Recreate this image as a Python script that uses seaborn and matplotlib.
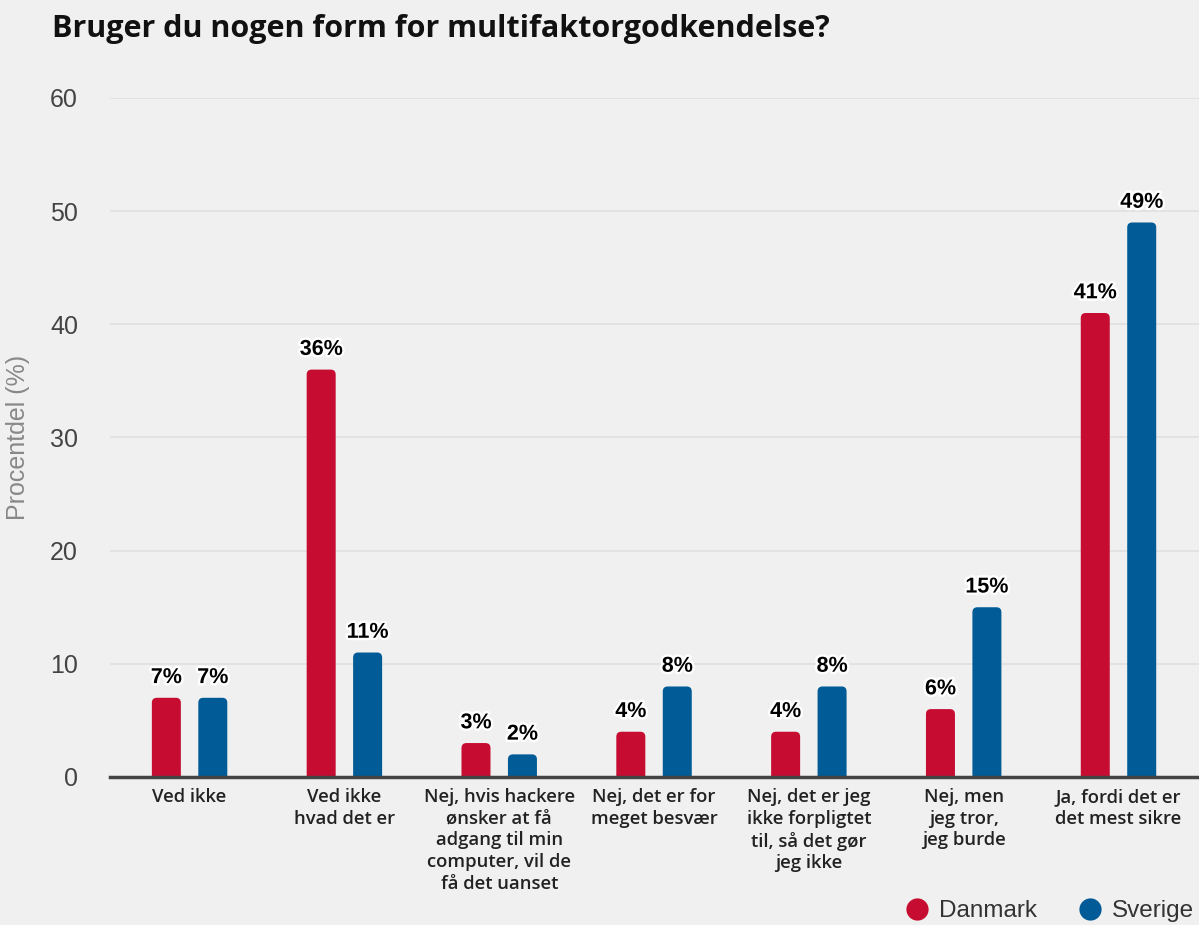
import matplotlib
matplotlib.use("Agg")
import matplotlib.pyplot as plt
import seaborn as sns
import pandas as pd
from matplotlib.patches import FancyBboxPatch
from matplotlib.lines import Line2D
import matplotlib.patheffects as pe

categories = [
    "Ved ikke",
    "Ved ikke\nhvad det er",
    "Nej, hvis hackere\nønsker at få\nadgang til min\ncomputer, vil de\nfå det uanset",
    "Nej, det er for\nmeget besvær",
    "Nej, det er jeg\nikke forpligtet\ntil, så det gør\njeg ikke",
    "Nej, men\njeg tror,\njeg burde",
    "Ja, fordi det er\ndet mest sikre",
]
series_names = ["Danmark", "Sverige"]
danmark = [7, 36, 3, 4, 4, 6, 41]
sverige = [7, 11, 2, 8, 8, 15, 49]
yticks = [0, 10, 20, 30, 40, 50, 60]
title = "Bruger du nogen form for multifaktorgodkendelse?"
ylabel = "Procentdel (%)"

colors = {"Danmark": "#c60c30", "Sverige": "#005b96"}
BG = "#f0f0f0"

df = pd.DataFrame({
    "kategori": categories * 2,
    "land": ["Danmark"] * len(categories) + ["Sverige"] * len(categories),
    "værdi": danmark + sverige,
})

sns.set_theme(style="white")
plt.rcParams["font.family"] = ["Liberation Sans", "DejaVu Sans"]

W, H = 1199, 925
fig = plt.figure(figsize=(W / 100, H / 100), dpi=100, facecolor=BG)
ax_left, ax_right, ax_bot, ax_top = 110, 1199, 777, 98
ax = fig.add_axes([ax_left / W, 1 - ax_bot / H, (ax_right - ax_left) / W, (ax_bot - ax_top) / H])
ax.set_facecolor(BG)

sns.barplot(data=df, x="kategori", y="værdi", hue="land", order=categories,
            hue_order=series_names, palette=colors, width=0.6, ax=ax,
            legend=False, errorbar=None, saturation=1)

xmin, xmax = -0.514, 6.52
ymin, ymax = 0, 60
ax.set_xlim(xmin, xmax)
ax.set_ylim(ymin, ymax)

px_x = (xmax - xmin) / (ax_right - ax_left)
px_y = (ymax - ymin) / (ax_bot - ax_top)
bar_w = 29 * px_x
rad = 5 * px_x

for cont, name in zip(ax.containers, series_names):
    for bar in cont:
        cx = bar.get_x() + bar.get_width() / 2
        h = bar.get_height()
        bar.remove()
        patch = FancyBboxPatch((cx - bar_w / 2, -2), bar_w, h + 2,
                               boxstyle=f"round,pad=0,rounding_size={rad}",
                               mutation_aspect=px_y / px_x,
                               facecolor=colors[name], edgecolor="none",
                               clip_on=True, zorder=3)
        ax.add_patch(patch)
        ax.annotate(f"{h:.0f}%", (cx, h), xytext=(0, 7), textcoords="offset points",
                    ha="center", va="bottom", fontsize=15.5, fontweight="bold",
                    color="black", zorder=5,
                    path_effects=[pe.withStroke(linewidth=3.5, foreground="white")])

ax.set_yticks(yticks)
ax.set_yticklabels([str(t) for t in yticks], fontsize=18, color="#444444")
ax.yaxis.grid(True, color="#e0e0e0", linewidth=1.2, zorder=0)
ax.set_axisbelow(True)
ax.tick_params(axis="y", length=0, pad=23)
ax.tick_params(axis="x", length=0, pad=8)
ax.set_xticks(range(len(categories)))
ax.set_xticklabels(categories, fontsize=13.3, color="#222222",
                   family=["Open Sans", "DejaVu Sans"], fontweight="semibold",
                   linespacing=1.26)
ax.set_xlabel("")
ax.set_ylabel(ylabel, fontsize=18, color="#888888", labelpad=0)
ax.yaxis.set_label_coords(-0.0735, 0.5)

for s in ["top", "right", "left"]:
    ax.spines[s].set_visible(False)
ax.spines["bottom"].set_color("#444444")
ax.spines["bottom"].set_linewidth(2.5)
ax.spines["bottom"].set_zorder(6)

fig.text(52 / W, 1 - 29 / H, title, fontsize=22, fontweight="bold",
         family=["Open Sans", "DejaVu Sans"], ha="left", va="center", color="#111111")

handles = [Line2D([], [], marker="o", linestyle="none", markersize=16,
                  markerfacecolor=colors[n], markeredgecolor="none") for n in series_names]
fig.legend(handles, series_names, loc="center right", bbox_to_anchor=(1.004, 1 - 911 / H),
           ncol=2, frameon=False, fontsize=17.5, handletextpad=0.3, columnspacing=1.6,
           labelcolor="#333333", borderaxespad=0.0, handlelength=1.2)

fig.savefig("out.png", dpi=100, facecolor=BG)
